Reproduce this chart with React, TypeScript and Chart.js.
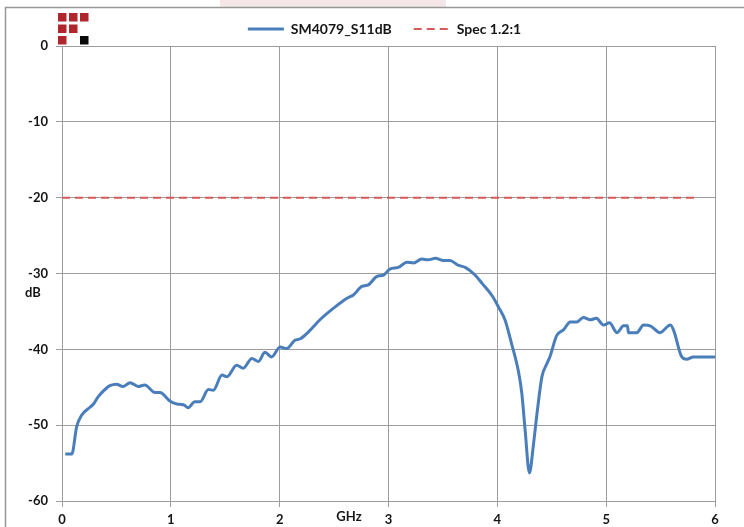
import React, { useEffect, useRef } from "react";
import { Chart, registerables } from "chart.js";

Chart.register(...registerables);

// ---- data ----
const freqGHz = [
  0.03, 0.09, 0.135, 0.18, 0.26, 0.29, 0.335, 0.41, 0.44, 0.5, 0.56, 0.625, 0.7, 0.76,
  0.855, 0.9, 0.99, 1.055, 1.115, 1.16, 1.22, 1.27, 1.345, 1.39, 1.47, 1.515, 1.605,
  1.665, 1.745, 1.805, 1.865, 1.925, 2.005, 2.065, 2.14, 2.19, 2.265, 2.37, 2.51, 2.615,
  2.68, 2.755, 2.815, 2.89, 2.955, 3.015, 3.09, 3.17, 3.23, 3.305, 3.365, 3.43, 3.505,
  3.565, 3.64, 3.705, 3.795, 3.86, 3.955, 4.01, 4.07, 4.13, 4.195, 4.225, 4.255, 4.295,
  4.33, 4.365, 4.41, 4.455, 4.485, 4.545, 4.61, 4.67, 4.73, 4.79, 4.855, 4.91, 4.975,
  5.03, 5.1, 5.16, 5.195, 5.205, 5.28, 5.345, 5.405, 5.495, 5.59, 5.62, 5.695, 5.74,
  5.8, 6.0,
];
const s11dB = [
  -53.8, -53.8, -50.2, -48.7, -47.6, -47.2, -46.2, -45.1, -44.8, -44.6, -44.9, -44.4, -44.9, -44.7,
  -45.7, -45.7, -46.8, -47.2, -47.3, -47.7, -46.9, -46.9, -45.3, -45.4, -43.4, -43.6, -42.1,
  -42.5, -41.2, -41.6, -40.4, -41.0, -39.7, -39.9, -38.8, -38.6, -37.7, -36.1, -34.4, -33.3,
  -32.8, -31.7, -31.5, -30.4, -30.2, -29.4, -29.2, -28.5, -28.6, -28.1, -28.2, -28.0, -28.3,
  -28.3, -28.9, -29.2, -30.2, -31.3, -33.0, -34.4, -36.1, -39.2, -43.0, -45.8, -50.6, -56.3,
  -52.8, -48.4, -43.6, -41.9, -40.9, -38.2, -37.4, -36.4, -36.4, -35.8, -36.1, -35.9, -36.8,
  -36.5, -37.8, -36.9, -36.9, -37.8, -37.8, -36.8, -36.9, -37.8, -36.8, -37.5, -41.0, -41.3,
  -41.0, -41.0,
];
const specFreqGHz = [0, 5.85];
const specdB = [-20, -20];

const seriesNames = ["SM4079_S11dB", "Spec 1.2:1"];
const xTickValues = [0, 1, 2, 3, 4, 5, 6];
const xTickLabels = ["0", "1", "2", "3", "4", "5", "6"];
const yTickValues = [0, -10, -20, -30, -40, -50, -60];
const yTickLabels = ["0", "-10", "-20", "-30", "-40", "-50", "-60"];
const xAxisTitle = "GHz";
const yAxisTitle = "dB";

const FONT = "Lato, 'Open Sans', sans-serif";
const GRID = "#9c9c9c";
const TEXT = "#151515";
const BLUE = "#4a7ebb";
const RED = "#d65a5a";
const SPEC_DASH = [8, 5];
const LEGEND_SHIFT = 27;

const decorPlugin = {
  id: "decor",
  afterLayout(chart: any) {
    const lg = chart.legend;
    if (lg) {
      lg.left += LEGEND_SHIFT;
      lg.right += LEGEND_SHIFT;
    }
  },
  beforeDraw(chart: any) {
    const ctx = chart.ctx as CanvasRenderingContext2D;
    ctx.save();
    ctx.fillStyle = "#ffffff";
    ctx.fillRect(0, 0, chart.width, chart.height);
    ctx.fillStyle = "#f5e7e7";
    ctx.fillRect(220, 0, 226, 7);
    ctx.strokeStyle = "#979797";
    ctx.lineWidth = 1.5;
    ctx.beginPath();
    ctx.moveTo(5.5, chart.height);
    ctx.lineTo(5.5, 7.5);
    ctx.lineTo(chart.width, 7.5);
    ctx.stroke();
    // logo
    const cells: [number, number, string][] = [
      [0, 0, "#b0262d"], [1, 0, "#b0262d"], [2, 0, "#b0262d"],
      [0, 1, "#b0262d"], [1, 1, "#b0262d"],
      [0, 2, "#b0262d"], [2, 2, "#0a0a0a"],
    ];
    for (const [c, r, col] of cells) {
      ctx.fillStyle = col;
      ctx.fillRect(58 + c * 11, 13 + r * 11.5, 8.5, 8.5);
    }
    ctx.restore();
  },
  afterDraw(chart: any) {
    const ctx = chart.ctx as CanvasRenderingContext2D;
    ctx.save();
    ctx.fillStyle = TEXT;
    ctx.font = `bold 13px ${FONT}`;
    ctx.textAlign = "center";
    ctx.textBaseline = "middle";
    ctx.fillText(yAxisTitle, 33, 293);
    ctx.fillText(xAxisTitle, 349, 517);
    // dashed legend sample for the spec series
    const boxes = chart.legend && chart.legend.legendHitBoxes;
    if (boxes && boxes[1]) {
      const b = boxes[1];
      const yMid = Math.round(b.top + b.height / 2);
      ctx.strokeStyle = RED;
      ctx.lineWidth = 2;
      ctx.setLineDash(SPEC_DASH);
      ctx.beginPath();
      ctx.moveTo(b.left, yMid);
      ctx.lineTo(b.left + 36, yMid);
      ctx.stroke();
    }
    ctx.restore();
  },
};

export default function App() {
  const ref = useRef<HTMLCanvasElement>(null);
  useEffect(() => {
    const chart = new Chart(ref.current as HTMLCanvasElement, {
      type: "line",
      data: {
        datasets: [
          {
            label: seriesNames[0],
            data: freqGHz.map((f, i) => ({ x: f, y: s11dB[i] })),
            borderColor: BLUE,
            backgroundColor: BLUE,
            borderWidth: 3,
            pointRadius: 0,
            cubicInterpolationMode: "monotone",
            fill: false,
          },
          {
            label: seriesNames[1],
            data: specFreqGHz.map((f, i) => ({ x: f, y: specdB[i] })),
            borderColor: RED,
            backgroundColor: RED,
            borderWidth: 2,
            borderDash: SPEC_DASH,
            pointRadius: 0,
            fill: false,
          },
        ],
      },
      options: {
        animation: false,
        responsive: false,
        devicePixelRatio: 1,
        layout: { padding: { left: 0, right: 29, top: 0, bottom: 0 } },
        plugins: {
          legend: {
            position: "top",
            labels: {
              usePointStyle: true,
              pointStyle: "line",
              pointStyleWidth: 36,
              padding: 22,
              color: TEXT,
              font: { family: FONT, size: 14, weight: "bold" },
              generateLabels: (chart: any) => {
                const items = Chart.defaults.plugins.legend.labels.generateLabels(chart);
                return items.map((it: any, i: number) =>
                  i === 1 ? { ...it, strokeStyle: "rgba(0,0,0,0)" } : it
                );
              },
            },
          },
          tooltip: { enabled: false },
        },
        scales: {
          x: {
            type: "linear",
            min: 0,
            max: 6,
            afterFit: (scale: any) => {
              scale.height = 26;
            },
            ticks: {
              stepSize: 1,
              color: TEXT,
              padding: 5,
              maxRotation: 0,
              autoSkip: false,
              font: { family: FONT, size: 13, weight: "bold" },
              callback: (v: any) => {
                const i = xTickValues.indexOf(Number(v));
                return i >= 0 ? xTickLabels[i] : "";
              },
            },
            grid: { color: GRID, lineWidth: 1, tickLength: 6, drawTicks: true },
            border: { display: true, color: GRID, width: 1 },
          },
          y: {
            type: "linear",
            min: -60,
            max: 0,
            afterFit: (scale: any) => {
              scale.width = 62;
            },
            ticks: {
              stepSize: 10,
              color: TEXT,
              padding: 8,
              autoSkip: false,
              font: { family: FONT, size: 13, weight: "bold" },
              callback: (v: any) => {
                const i = yTickValues.indexOf(Number(v));
                return i >= 0 ? yTickLabels[i] : "";
              },
            },
            grid: { color: GRID, lineWidth: 1, tickLength: 6, drawTicks: true },
            border: { display: true, color: GRID, width: 1 },
          },
        },
      },
      plugins: [decorPlugin],
    } as any);
    return () => chart.destroy();
  }, []);
  return (
    <div style={{ position: "fixed", left: 0, top: 0, width: 744, height: 527, background: "#fff" }}>
      <canvas ref={ref} width={744} height={527} style={{ display: "block", width: 744, height: 527 }} />
    </div>
  );
}
